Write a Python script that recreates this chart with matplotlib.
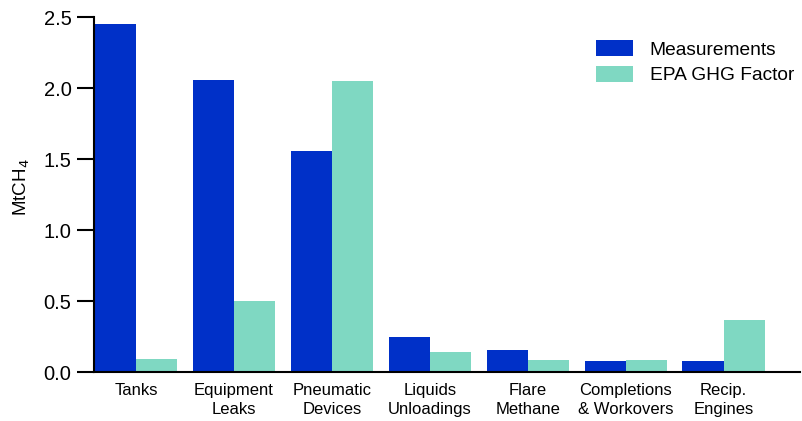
import numpy as np
import matplotlib
matplotlib.use("Agg")
import matplotlib.pyplot as plt

categories = ["Tanks", "Equipment\nLeaks", "Pneumatic\nDevices", "Liquids\nUnloadings",
              "Flare\nMethane", "Completions\n& Workovers", "Recip.\nEngines"]
measurements = [2.45, 2.06, 1.56, 0.25, 0.155, 0.08, 0.08]
epa_factor = [0.09, 0.50, 2.05, 0.14, 0.085, 0.085, 0.37]

plt.rcParams['font.family'] = ['Liberation Sans', 'DejaVu Sans']

fig = plt.figure(figsize=(8.02, 4.21), dpi=100)
ax = fig.add_axes([0.117, 0.116, 0.8805, 0.8436])

x = np.arange(len(categories))
w = 0.42
ax.bar(x - w / 2, measurements, w, color='#0030c8', label='Measurements')
ax.bar(x + w / 2, epa_factor, w, color='#7fd8c2', label='EPA GHG Factor')

ax.set_xlim(-0.43, 6.78)
ax.set_ylim(0, 2.5)
ax.set_yticks([0, 0.5, 1.0, 1.5, 2.0, 2.5])
ax.set_yticklabels(['0.0', '0.5', '1.0', '1.5', '2.0', '2.5'], fontsize=14.5)
ax.set_xticks(x)
ax.set_xticklabels(categories, fontsize=12, linespacing=1.3)
ax.tick_params(axis='x', length=0, pad=8)
ax.tick_params(axis='y', length=12, width=1.5, pad=4)
ax.set_ylabel('MtCH$_4$', fontsize=13.5)
ax.yaxis.set_label_coords(-0.087, 0.52)

for s in ['top', 'right']:
    ax.spines[s].set_visible(False)
for s in ['left', 'bottom']:
    ax.spines[s].set_linewidth(1.5)

ax.legend(loc='upper left', bbox_to_anchor=(596 / 802, 1 - 40 / 421), bbox_transform=fig.transFigure,
          frameon=False, fontsize=13.8, borderpad=0, borderaxespad=0,
          handlelength=1.95, handleheight=0.9, handletextpad=0.85, labelspacing=0.38)

fig.savefig('out.png', dpi=100)
